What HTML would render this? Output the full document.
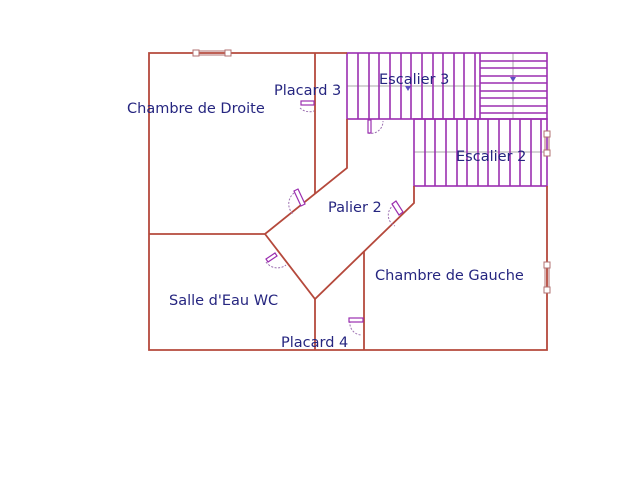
<!DOCTYPE html>
<html><head><meta charset="utf-8"><style>
html,body{margin:0;padding:0;background:#fff;}
svg{display:block}
text{font-family:"DejaVu Sans","Liberation Sans",sans-serif;font-size:14.5px;fill:#262680;}
</style></head><body>
<svg width="640" height="480" viewBox="0 0 640 480" xmlns="http://www.w3.org/2000/svg">
<g stroke="#aaa" stroke-width="1">
<line x1="347" y1="86" x2="480" y2="86"/>
<line x1="513" y1="53" x2="513" y2="119"/>
<line x1="414" y1="152" x2="547" y2="152"/>
</g>
<g stroke="#9b2fb0" stroke-width="1.6" fill="none">
<rect x="347" y="53" width="200" height="66"/>
<line x1="358" y1="53" x2="358" y2="119"/><line x1="369" y1="53" x2="369" y2="119"/>
<line x1="379" y1="53" x2="379" y2="119"/><line x1="390" y1="53" x2="390" y2="119"/>
<line x1="401" y1="53" x2="401" y2="119"/><line x1="411" y1="53" x2="411" y2="119"/>
<line x1="422" y1="53" x2="422" y2="119"/><line x1="433" y1="53" x2="433" y2="119"/>
<line x1="443" y1="53" x2="443" y2="119"/><line x1="454" y1="53" x2="454" y2="119"/>
<line x1="464" y1="53" x2="464" y2="119"/><line x1="475" y1="53" x2="475" y2="119"/>
<line x1="480" y1="53" x2="480" y2="119"/>
<line x1="480" y1="61" x2="547" y2="61"/><line x1="480" y1="68" x2="547" y2="68"/>
<line x1="480" y1="76" x2="547" y2="76"/><line x1="480" y1="83" x2="547" y2="83"/>
<line x1="480" y1="91" x2="547" y2="91"/><line x1="480" y1="98" x2="547" y2="98"/>
<line x1="480" y1="106" x2="547" y2="106"/><line x1="480" y1="113" x2="547" y2="113"/>
<rect x="414" y="119" width="133" height="67"/>
<line x1="425" y1="119" x2="425" y2="186"/><line x1="435" y1="119" x2="435" y2="186"/>
<line x1="446" y1="119" x2="446" y2="186"/><line x1="457" y1="119" x2="457" y2="186"/>
<line x1="467" y1="119" x2="467" y2="186"/><line x1="478" y1="119" x2="478" y2="186"/>
<line x1="488" y1="119" x2="488" y2="186"/><line x1="499" y1="119" x2="499" y2="186"/>
<line x1="510" y1="119" x2="510" y2="186"/><line x1="520" y1="119" x2="520" y2="186"/>
<line x1="531" y1="119" x2="531" y2="186"/><line x1="541" y1="119" x2="541" y2="186"/>
</g>
<polygon points="510,77 516,77 513,82" fill="#5a4fc0"/>
<polygon points="405,86 411,86 408,91" fill="#5a4fc0"/>
<g stroke="#b5493c" stroke-width="1.8" fill="none">
<polyline points="347,53 149,53 149,350 547,350 547,186"/>
<line x1="315" y1="53" x2="315" y2="194"/>
<polyline points="347,119 347,168 265,234 149,234"/>
<polyline points="265,234 315,299 414,203 414,186"/>
<line x1="315" y1="299" x2="315" y2="350"/>
<line x1="364" y1="251" x2="364" y2="350"/>
</g>
<g stroke="#b07070" stroke-width="1" fill="#fff">
<line x1="196" y1="51" x2="228" y2="51"/><line x1="196" y1="55" x2="228" y2="55"/>
<rect x="193" y="50" width="6" height="6"/><rect x="225" y="50" width="6" height="6"/>
<line x1="545" y1="134" x2="545" y2="155"/><line x1="549" y1="134" x2="549" y2="155"/>
<rect x="544" y="131" width="6" height="6"/><rect x="544" y="150" width="6" height="6"/>
<line x1="545" y1="265" x2="545" y2="290"/><line x1="549" y1="265" x2="549" y2="290"/>
<rect x="544" y="262" width="6" height="6"/><rect x="544" y="287" width="6" height="6"/>
</g>
<g stroke="#9b6fb0" stroke-width="1" fill="none" stroke-dasharray="2,1.5">
<path d="M300,108 A14,14 0 0 0 314,111"/>
<path d="M368,133 A12,12 0 0 0 383,121"/>
<path d="M294,193 A14,14 0 0 0 293,214"/>
<path d="M394,205 A12,12 0 0 0 395,226"/>
<path d="M266,262 A14,14 0 0 0 286,265"/>
<path d="M350,321 A12,12 0 0 0 362,335"/>
</g>
<g stroke="#9b2fb0" stroke-width="1.2" fill="#fff">
<rect x="301" y="101" width="13" height="4"/>
<rect x="368" y="120" width="3" height="13"/>
<polygon points="294,191 298,189 305,204 301,206"/>
<polygon points="392,204 396,201 403,212 399,215"/>
<polygon points="266,259 275,253 277,256 268,262"/>
<rect x="349" y="318" width="14" height="4"/>
</g>
<text x="127" y="113">Chambre de Droite</text>
<text x="274" y="95">Placard 3</text>
<text x="379" y="84">Escalier 3</text>
<text x="456" y="161">Escalier 2</text>
<text x="328" y="212">Palier 2</text>
<text x="375" y="280">Chambre de Gauche</text>
<text x="169" y="305">Salle d'Eau WC</text>
<text x="281" y="347">Placard 4</text>
</svg>
</body></html>
